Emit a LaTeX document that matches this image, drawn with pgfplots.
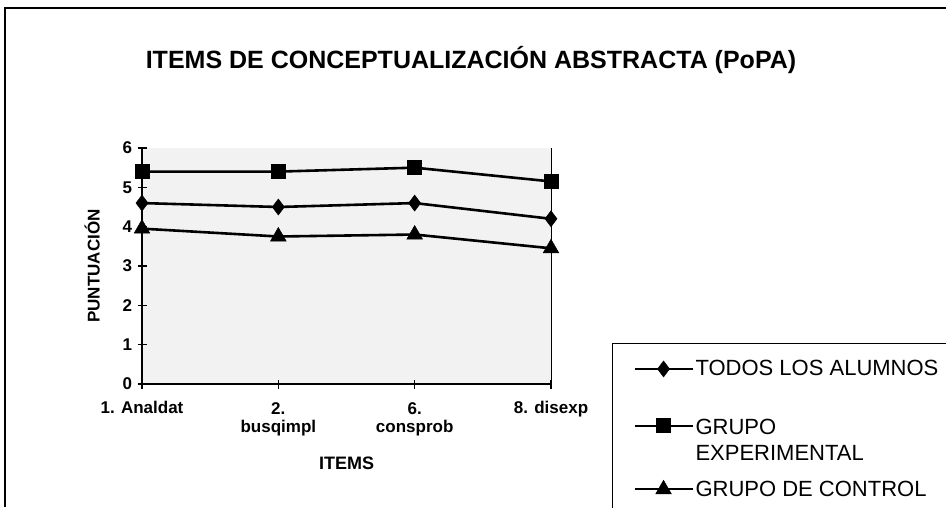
\documentclass[border=0pt]{standalone}
\usepackage{pgfplots}
\pgfplotsset{compat=1.18}
\usepackage{fontspec}
\setmainfont{Liberation Sans}
\pgfplotsset{shiftlegend/.style={legend image code/.code={%
  \draw[mark repeat=2,mark phase=2,##1,line width=2pt] plot coordinates {(0pt,3.5pt) (29pt,3.5pt) (58pt,3.5pt)};}}}
\begin{document}
\begin{tikzpicture}
\useasboundingbox (0,0) rectangle (946pt,507pt);
\fill[white] (0,0) rectangle (946pt,507pt);
% chart frame
\draw[line width=1.5pt] (5pt,0pt) -- (5pt,499pt) -- (946pt,499pt);
\node[font=\fontsize{25}{28}\selectfont\bfseries] at (471pt,447pt) {ITEMS DE CONCEPTUALIZACIÓN ABSTRACTA (PoPA)};
\begin{axis}[
  at={(142pt,123pt)}, anchor=south west,
  scale only axis, width=409pt, height=236pt,
  xmin=0, xmax=3, ymin=0, ymax=6,
  xtick=data,
  xticklabels={{1. Analdat\\[-5pt]\strut},{2.\\[-5pt]busqimpl},{6.\\[-5pt]consprob},{8. disexp\\[-5pt]\strut}},
  ytick={0,1,2,3,4,5,6},
  axis lines*=left,
  axis line style={line width=1.8pt,-},
  tick align=center,
  major tick length=9pt,
  tick style={line width=1.2pt,black},
  /pgf/number format/assume math mode=true,
  ticklabel style={font=\fontsize{17}{23}\selectfont\bfseries},
  xticklabel style={align=center, anchor=center, yshift=-31pt},
  yticklabel style={xshift=-2pt},
  axis background/.style={fill=gray!10},
  ylabel={PUNTUACIÓN},
  every axis y label/.style={at={(axis description cs:-0.122,0.5)}, rotate=90, anchor=center, font=\fontsize{17}{20}\selectfont\bfseries},
  xlabel={ITEMS},
  every axis x label/.style={at={(axis description cs:0.5,-0.335)}, anchor=center, font=\fontsize{18}{21}\selectfont\bfseries},
  legend style={at={(axis description cs:1.149,0.174)}, anchor=north west,
    draw=black, line width=1.2pt, fill=white,
    font=\fontsize{22}{26}\selectfont,
    nodes={align=left, inner sep=2pt},
    row sep=15pt, inner xsep=21pt, inner ysep=15pt},
  legend cell align=left,
  legend image code/.code={
    \draw[mark repeat=2,mark phase=2,#1,line width=2pt] plot coordinates {(0pt,0pt) (29pt,0pt) (58pt,0pt)};
  },
  clip=false,
]
\addplot[black, line width=2.6pt, mark=diamond*, mark size=8pt, mark options={solid,fill=black,line width=0.5pt}]
  coordinates {(0,4.6) (1,4.5) (2,4.6) (3,4.2)};
\addlegendentry{TODOS LOS ALUMNOS}
\addplot[black, line width=2.6pt, mark=square*, mark size=7pt, mark options={solid,fill=black,line width=0.5pt}, shiftlegend]
  coordinates {(0,5.4) (1,5.4) (2,5.5) (3,5.15)};
\addlegendentry{\rule{0pt}{38pt}GRUPO\\EXPERIMENTAL}
\addplot[black, line width=2.6pt, mark=triangle*, mark size=9pt, mark options={solid,fill=black,line width=0.5pt}]
  coordinates {(0,3.95) (1,3.75) (2,3.8) (3,3.45)};
\addlegendentry{GRUPO DE CONTROL}
\draw[line width=1pt] (rel axis cs:1,0) -- (rel axis cs:1,1);
\end{axis}
\end{tikzpicture}
\end{document}
